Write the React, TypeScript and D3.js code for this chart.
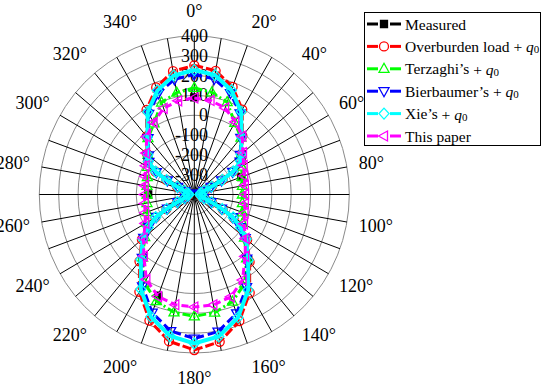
import * as d3 from 'd3';

// polar frame (slightly taller than wide in the original export)
const W = 542;
const H = 389;
const cx = 194.3;
const cy = 194.5;
const Rx = 155;
const Ry = 158.5;

const ringValues = [-300, -200, -100, 0, 100, 200, 300, 400];
const radialLabels = [400, 300, 200, 100, 0, -100, -200, -300];
const spokeAngles = [0, 10, 20, 30, 40, 50, 60, 70, 80, 90, 100, 110, 120, 130, 140, 150, 160, 170,
  180, 190, 200, 210, 220, 230, 240, 250, 260, 270, 280, 290, 300, 310, 320, 330, 340, 350];
const angleLabels = [0, 20, 40, 60, 80, 100, 120, 140, 160, 180, 200, 220, 240, 260, 280, 300, 320, 340];

// theory curves share a denser angle list around the side pinches
const thetaDense = [0, 10, 20, 30, 40, 50, 55, 60, 63, 66, 70, 80, 90, 100, 110, 114, 117, 120, 125, 130,
  140, 150, 160, 170, 180, 190, 200, 210, 220, 230, 235, 240, 243, 246, 250, 260, 270, 280, 290, 294,
  297, 300, 305, 310, 320, 330, 340, 350];
const theta10 = spokeAngles;

const overburden = [252, 234, 178, 95, -14, -80, -105, -165, -235, -300, -345, -365, -370, -365, -345, -300,
  -235, -165, -105, -44, 44, 172, 280, 355, 385, 352, 277, 167, 40, -47, -108, -168, -238, -302, -346, -366,
  -370, -366, -346, -302, -238, -168, -108, -82, -17, 93, 175, 232];
const xie = [228, 212, 160, 83, -20, -85, -108, -168, -238, -302, -346, -366, -371, -366, -346, -302,
  -238, -168, -108, -50, 33, 156, 260, 328, 352, 325, 256, 152, 29, -53, -110, -170, -240, -304, -347, -367,
  -371, -367, -347, -304, -240, -170, -110, -87, -23, 81, 158, 210];
const bierbaumer = [206, 192, 145, 72, -27, -90, -112, -172, -242, -305, -348, -368, -372, -368, -348, -305,
  -242, -172, -112, -57, 22, 140, 238, 303, 327, 300, 235, 135, 18, -59, -114, -174, -244, -306, -349, -369,
  -372, -369, -349, -306, -244, -174, -114, -92, -29, 70, 143, 190];
const terzaghi = [138, 123, 96, 18, -25, -85, -118, -138, -148, -152, -148, -136, -112, -62, 20, 120, 175, 205,
  215, 204, 172, 116, 15, -66, -116, -140, -152, -156, -152, -142, -122, -88, -28, 15, 94, 122];
const thisPaper = [87, 82, 65, 23, -15, -72, -106, -126, -135, -138, -135, -124, -104, -55, 8, 98, 150, 166,
  168, 165, 148, 95, 5, -58, -108, -130, -140, -143, -140, -130, -110, -75, -18, 20, 63, 80];
const measuredAngles = [0, 70, 140, 200, 270];
const measured = [90, -142, 33, 143, -162];

type Marker = 'square' | 'circle' | 'up' | 'down' | 'diamond' | 'left';

const series = [
  { name: 'Measured', q0: false, color: '#000000', marker: 'square' as Marker, angles: measuredAngles, values: measured, dash: '', width: 0 },
  { name: 'Overburden load', q0: true, color: '#ff0000', marker: 'circle' as Marker, angles: thetaDense, values: overburden, dash: '9,3', width: 3 },
  { name: 'Terzaghi\u2019s', q0: true, color: '#00ff00', marker: 'up' as Marker, angles: theta10, values: terzaghi, dash: '8,3,2,3', width: 3 },
  { name: 'Bierbaumer\u2019s', q0: true, color: '#0000ff', marker: 'down' as Marker, angles: thetaDense, values: bierbaumer, dash: '8,4', width: 3 },
  { name: 'Xie\u2019s', q0: true, color: '#00ffff', marker: 'diamond' as Marker, angles: thetaDense, values: xie, dash: '', width: 4 },
  { name: 'This paper', q0: false, color: '#ff00ff', marker: 'left' as Marker, angles: theta10, values: thisPaper, dash: '7,4', width: 3 },
];

const font = 'Liberation Serif, Times New Roman, serif';

function markerPath(m: Marker, x: number, y: number) {
  switch (m) {
    case 'square': return `M${x - 3.5},${y - 3.5}h7v7h-7Z`;
    case 'circle': return `M${x - 4.5},${y}a4.5,4.5 0 1,0 9,0a4.5,4.5 0 1,0 -9,0Z`;
    case 'up': return `M${x},${y - 5.5}L${x + 5},${y + 3.5}L${x - 5},${y + 3.5}Z`;
    case 'down': return `M${x},${y + 5.5}L${x + 5},${y - 3.5}L${x - 5},${y - 3.5}Z`;
    case 'diamond': return `M${x},${y - 5.5}L${x + 5},${y}L${x},${y + 5.5}L${x - 5},${y}Z`;
    case 'left': return `M${x - 5.5},${y}L${x + 3.5},${y - 5}L${x + 3.5},${y + 5}Z`;
  }
}

export default function App() {
  const r = d3.scaleLinear().domain([-400, 400]).range([0, 1]);
  const rad = (deg: number) => (deg * Math.PI) / 180;
  const px = (deg: number, v: number) => cx + Rx * r(v) * Math.sin(rad(deg));
  const py = (deg: number, v: number) => cy - Ry * r(v) * Math.cos(rad(deg));
  const line = d3.line<[number, number]>().curve(d3.curveLinearClosed);

  const legendX = 364.5;
  const legendY = 12.5;
  const rowY = (i: number) => 24 + i * 22.4;

  return (
    <svg width={W} height={H} style={{ position: 'absolute', left: 0, top: 0, background: '#fff', fontFamily: font }}>
      {/* grid */}
      {ringValues.map((v) => (
        <ellipse key={v} cx={cx} cy={cy} rx={Rx * r(v)} ry={Ry * r(v)} fill="none" stroke="#8a8a8a" strokeWidth={1} />
      ))}
      {spokeAngles.map((a) => (
        <line key={a} x1={cx} y1={cy} x2={px(a, 400)} y2={py(a, 400)} stroke="#000" strokeWidth={1} />
      ))}
      {radialLabels.map((v) => (
        <text key={v} x={208} y={py(0, v)} fontSize={18} textAnchor="end" dominantBaseline="central">
          {v < 0 ? `-${Math.abs(v)}` : v}
        </text>
      ))}
      {angleLabels.map((a) => {
        const s = Math.sin(rad(a));
        const anchor = s > 0.01 ? 'start' : s < -0.01 ? 'end' : 'middle';
        return (
          <text key={a} x={cx + (Rx + 12) * s} y={cy - (Ry + 25) * Math.cos(rad(a))} fontSize={18}
            textAnchor={anchor} dominantBaseline="central">{`${a}\u00b0`}</text>
        );
      })}

      {/* curves */}
      {series.map((s) => (
        <g key={s.name}>
          {s.width > 0 && (
            <path d={line(s.angles.map((a, i) => [px(a, s.values[i]), py(a, s.values[i])]) as [number, number][]) || ''}
              fill="none" stroke={s.color} strokeWidth={s.width} strokeDasharray={s.dash || undefined} />
          )}
          {s.angles.map((a, i) => (
            <path key={i} d={markerPath(s.marker, px(a, s.values[i]), py(a, s.values[i]))}
              fill={s.marker === 'square' ? '#000' : 'none'} stroke={s.color} strokeWidth={1.3} />
          ))}
        </g>
      ))}

      {/* legend */}
      <rect x={legendX} y={legendY} width={176} height={133} fill="#fff" stroke="#000" strokeWidth={1} />
      {series.map((s, i) => (
        <g key={s.name}>
          <line x1={367} x2={378} y1={rowY(i)} y2={rowY(i)} stroke={s.color} strokeWidth={3} />
          <line x1={390} x2={401} y1={rowY(i)} y2={rowY(i)} stroke={s.color} strokeWidth={3} />
          <path d={markerPath(s.marker, 384, rowY(i))} fill={s.marker === 'square' ? '#000' : '#fff'}
            stroke={s.color} strokeWidth={1.3} />
          <text x={405} y={rowY(i)} fontSize={15.5} dominantBaseline="central">
            {s.name}
            {s.q0 && (
              <>
                <tspan> + </tspan>
                <tspan fontStyle="italic">q</tspan>
                <tspan fontSize={11} dy={3}>0</tspan>
              </>
            )}
          </text>
        </g>
      ))}
    </svg>
  );
}
